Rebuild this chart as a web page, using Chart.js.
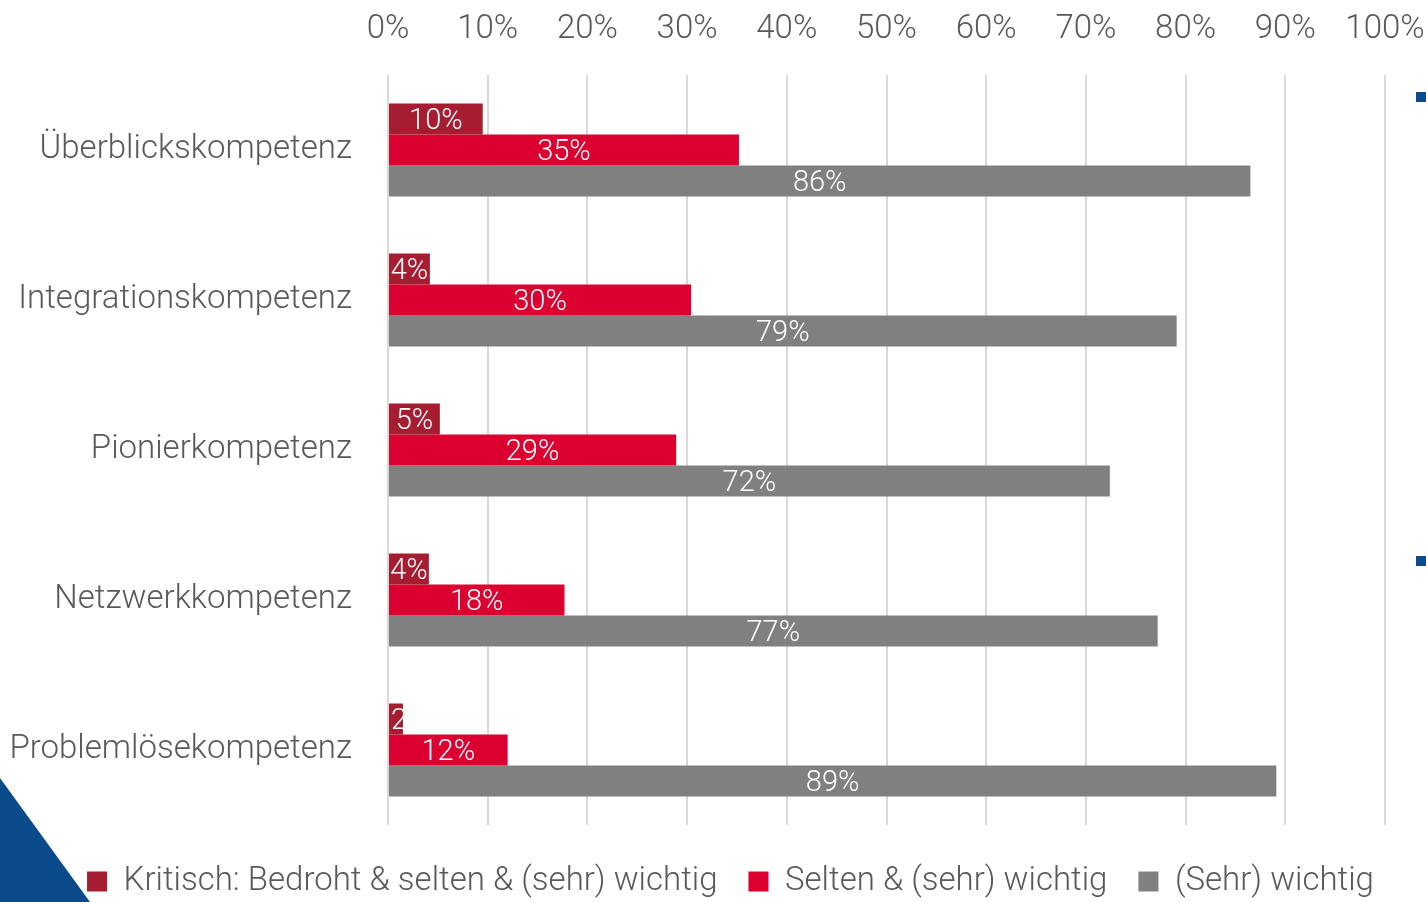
<!DOCTYPE html>
<html>
<head>
<meta charset="utf-8">
<script src="https://cdn.jsdelivr.net/npm/chart.js@4.4.1/dist/chart.umd.min.js"></script>
<style>
  html, body { margin: 0; padding: 0; background: #fff; overflow: hidden; }
  #wrap { position: relative; width: 1426px; height: 902px; }
  .deco { position: absolute; background: #0b4a8b; }
  #c { position: absolute; left: 0; top: 0; }
</style>
</head>
<body>
<div id="wrap">
  <div class="deco" style="left:0;top:778px;width:90px;height:124px;clip-path:polygon(0 0,100% 100%,0 100%)"></div>
  <div class="deco" style="left:1416px;top:92px;width:10px;height:10px"></div>
  <div class="deco" style="left:1416px;top:556px;width:10px;height:10px"></div>
  <canvas id="c" width="1426" height="902"></canvas>
</div>
<script>
// Kategorien und Werte (in %)
const categories = [
  'Überblickskompetenz',
  'Integrationskompetenz',
  'Pionierkompetenz',
  'Netzwerkkompetenz',
  'Problemlösekompetenz',
];
const kritisch = [9.5, 4.2, 5.2, 4.1, 1.5];
const selten = [35.2, 30.4, 28.9, 17.7, 12.0];
const wichtig = [86.5, 79.1, 72.4, 77.2, 89.1];

const kritischLabels = ['10%', '4%', '5%', '4%', '2%'];
const seltenLabels = ['35%', '30%', '29%', '18%', '12%'];
const wichtigLabels = ['86%', '79%', '72%', '77%', '89%'];

const seriesNames = [
  'Kritisch: Bedroht & selten & (sehr) wichtig',
  'Selten & (sehr) wichtig',
  '(Sehr) wichtig',
];

const FONT = 'Roboto';
const TEXT = '#595959';

// Werte-Labels in den Balken, weiß, auf Balken geclippt
const barLabels = {
  id: 'barLabels',
  afterDatasetsDraw(chart) {
    const { ctx } = chart;
    ctx.save();
    ctx.font = '300 29px ' + FONT;
    ctx.fillStyle = '#ffffff';
    ctx.textBaseline = 'middle';
    chart.data.datasets.forEach((ds, di) => {
      const meta = chart.getDatasetMeta(di);
      meta.data.forEach((bar, i) => {
        const text = ds.valueLabels[i];
        const left = bar.base;
        const right = bar.x;
        const h = bar.height;
        const w = ctx.measureText(text).width;
        ctx.save();
        ctx.beginPath();
        ctx.rect(left, bar.y - h / 2, right - left, h);
        ctx.clip();
        let x;
        if (w < right - left) {
          ctx.textAlign = 'center';
          x = (left + right) / 2;
        } else {
          ctx.textAlign = 'left';
          x = left + 2;
        }
        ctx.fillText(text, x, bar.y + 3);
        ctx.restore();
      });
    });
    ctx.restore();
  },
};

// Legende etwas nach rechts schieben, wie im Original
const legendShift = {
  id: 'legendShift',
  afterLayout(chart) {
    const lg = chart.legend;
    if (!lg) return;
    lg.left += 38;
    lg.right += 38;
  },
};

new Chart(document.getElementById('c'), {
  type: 'bar',
  plugins: [barLabels, legendShift],
  data: {
    labels: categories,
    datasets: [
      { label: seriesNames[0], data: kritisch, valueLabels: kritischLabels, backgroundColor: '#a61c31' },
      { label: seriesNames[1], data: selten, valueLabels: seltenLabels, backgroundColor: '#dc0030' },
      { label: seriesNames[2], data: wichtig, valueLabels: wichtigLabels, backgroundColor: '#808080' },
    ],
  },
  options: {
    indexAxis: 'y',
    responsive: false,
    animation: false,
    categoryPercentage: 0.62,
    barPercentage: 1.0,
    layout: { padding: { left: 0, right: 41, top: 0, bottom: -6 } },
    plugins: {
      tooltip: { enabled: false },
      legend: {
        position: 'bottom',
        // unsichtbarer Titel schiebt die Einträge etwas nach unten
        title: { display: true, text: ' ', color: 'rgba(0,0,0,0)', font: { size: 1, lineHeight: 1 }, padding: { top: 8, bottom: 0 } },
        labels: {
          color: TEXT,
          font: { family: FONT, size: 33, weight: 300 },
          boxWidth: 20,
          boxHeight: 20,
          padding: 31,
        },
      },
    },
    scales: {
      x: {
        position: 'top',
        min: 0,
        max: 100,
        ticks: {
          stepSize: 10,
          color: TEXT,
          font: { family: FONT, size: 33, weight: 300 },
          padding: 25,
          callback: v => v + '%',
        },
        grid: { color: '#d9d9d9', lineWidth: 2, drawTicks: false },
        border: { display: false },
        afterFit(scale) {
          scale.height = 75;
          scale.paddingLeft = 0;
          scale.paddingRight = 0;
        },
      },
      y: {
        ticks: {
          color: TEXT,
          font: { family: FONT, size: 33, weight: 300 },
          padding: 36,
        },
        grid: { display: false, drawTicks: false },
        border: { display: false },
        afterFit(scale) {
          scale.width = 388;
          scale.paddingTop = 0;
          scale.paddingBottom = 0;
        },
      },
    },
  },
});
</script>
</body>
</html>
